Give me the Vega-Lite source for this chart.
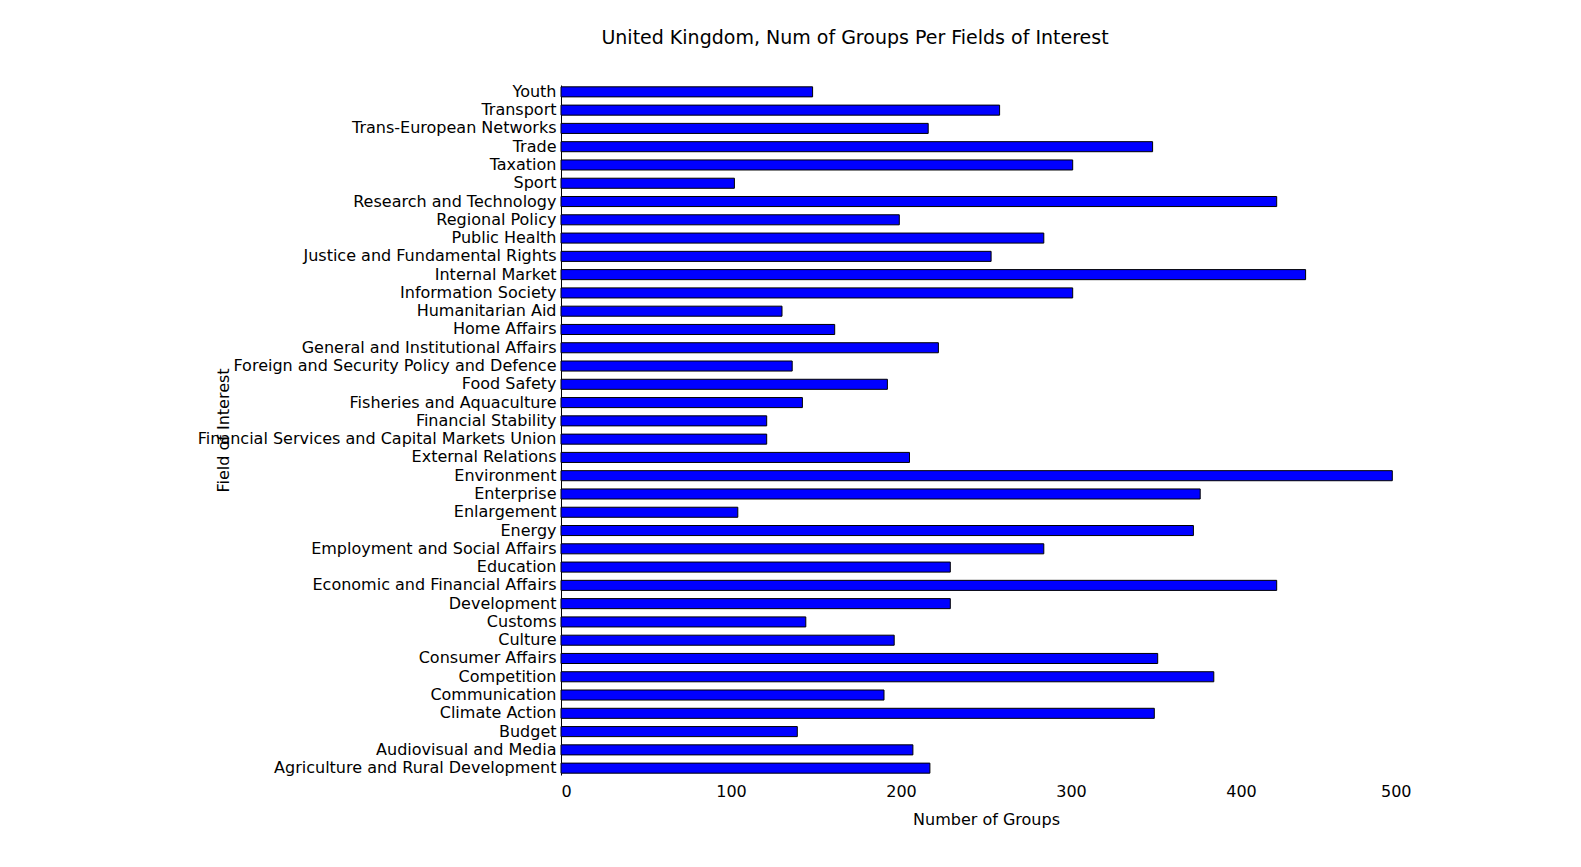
{"$schema":"https://vega.github.io/schema/vega-lite/v6.json","autosize":{"type":"none"},"padding":{"left":561,"top":85,"right":170,"bottom":92},"width":850,"height":690,
"title":{"text":"United Kingdom, Num of Groups Per Fields of Interest","font":"DejaVu Sans","fontSize":19,"fontWeight":"normal","offset":35,"anchor":"middle","dx":-131},
"data":{"values":[
{"f":"Youth","v":148},{"f":"Transport","v":258},{"f":"Trans-European Networks","v":216},{"f":"Trade","v":348},{"f":"Taxation","v":301},{"f":"Sport","v":102},{"f":"Research and Technology","v":421},{"f":"Regional Policy","v":199},{"f":"Public Health","v":284},{"f":"Justice and Fundamental Rights","v":253},{"f":"Internal Market","v":438},{"f":"Information Society","v":301},{"f":"Humanitarian Aid","v":130},{"f":"Home Affairs","v":161},{"f":"General and Institutional Affairs","v":222},{"f":"Foreign and Security Policy and Defence","v":136},{"f":"Food Safety","v":192},{"f":"Fisheries and Aquaculture","v":142},{"f":"Financial Stability","v":121},{"f":"Financial Services and Capital Markets Union","v":121},{"f":"External Relations","v":205},{"f":"Environment","v":489},{"f":"Enterprise","v":376},{"f":"Enlargement","v":104},{"f":"Energy","v":372},{"f":"Employment and Social Affairs","v":284},{"f":"Education","v":229},{"f":"Economic and Financial Affairs","v":421},{"f":"Development","v":229},{"f":"Customs","v":144},{"f":"Culture","v":196},{"f":"Consumer Affairs","v":351},{"f":"Competition","v":384},{"f":"Communication","v":190},{"f":"Climate Action","v":349},{"f":"Budget","v":139},{"f":"Audiovisual and Media","v":207},{"f":"Agriculture and Rural Development","v":217}]},
"mark":{"type":"bar","color":"#0000ff","stroke":"black","strokeWidth":1},
"encoding":{
"y":{"field":"f","type":"nominal","sort":"descending","scale":{"paddingInner":0.45,"paddingOuter":0.1},"axis":{"title":"Field of Interest","titleFont":"DejaVu Sans","titleFontSize":16,"titleFontWeight":"normal","titlePadding":130,"labelFont":"DejaVu Sans","labelFontSize":16,"labelColor":"black","domainColor":"black","ticks":false,"labelPadding":5,"labelLimit":500}},
"x":{"field":"v","type":"quantitative","scale":{"domain":[0,500]},"axis":{"title":"Number of Groups","titleFont":"DejaVu Sans","titleFontSize":16,"titleFontWeight":"normal","titlePadding":12,"labelFont":"DejaVu Sans","labelFontSize":16,"labelColor":"black","values":[0,100,200,300,400,500],"grid":false,"domain":false,"ticks":false,"labelPadding":8}}},
"config":{"view":{"stroke":null}}}
